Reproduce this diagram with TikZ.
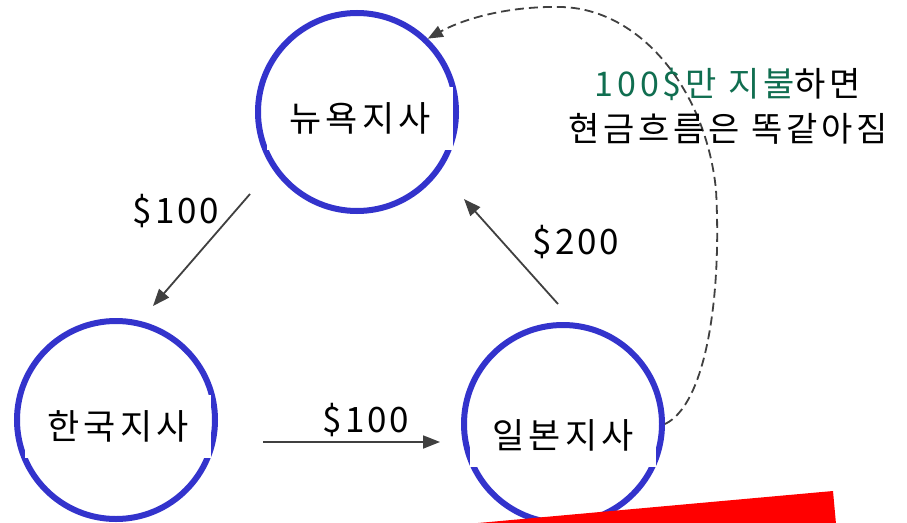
\documentclass[tikz,border=0pt]{standalone}
\usepackage{fontspec}
\setmainfont{Noto Sans CJK KR}
\usetikzlibrary{arrows.meta}
\definecolor{circblue}{RGB}{51,51,204}
\definecolor{notegreen}{RGB}{16,110,80}
\definecolor{arrgrey}{RGB}{64,64,64}
\tikzset{
  branch/.style={circle, draw=circblue, line width=6pt, minimum size=198pt, inner sep=0pt},
  branchtext/.style={fill=white, minimum width=186pt, minimum height=63pt, inner sep=0pt,
    font=\fontsize{35}{40}\selectfont\addfontfeatures{LetterSpace=12}},
  flow/.style={draw=arrgrey, line width=1.8pt, -{Triangle[length=17pt,width=13pt]}},
  dashflow/.style={draw=arrgrey, line width=1.8pt, dash pattern=on 9pt off 5pt,
    -{Triangle[length=15pt,width=12pt]}},
  amount/.style={font=\fontsize{35}{40}\selectfont\addfontfeatures{LetterSpace=8}, inner sep=0pt},
  note/.style={align=center, inner sep=0pt,
    font=\fontsize{34}{45}\selectfont\addfontfeatures{LetterSpace=11}}
}
\begin{document}
\begin{tikzpicture}[x=1pt,y=-1pt]
\useasboundingbox (0,0) rectangle (907,522);
\fill[white] (0,0) rectangle (907,522);

% circles
\node[branch] (c1) at (357,112) {};
\node[branch] (c2) at (116,420) {};
\node[branch] (c3) at (563,424) {};

% text boxes
\node[branchtext] (t1) at (360,118) {뉴욕지사};
\node[branchtext] (t2) at (118,426) {한국지사};
\node[branchtext] (t3) at (563,435) {일본지사};

% arrow end points
\coordinate (a1s) at (250,194);
\coordinate (a1e) at (153,306);
\coordinate (a2s) at (558,304);
\coordinate (a2e) at (464,199);
\coordinate (a3s) at (263,442);
\coordinate (a3e) at (440,442);

\draw[flow] (a1s) -- (a1e);
\draw[flow] (a2s) -- (a2e);
\draw[flow] (a3s) -- (a3e);

% amounts
\node[amount] (l1) at (176,211) {\$100};
\node[amount] (l2) at (576,242) {\$200};
\node[amount] (l3) at (366,420) {\$100};

% dashed curve
\coordinate (m1) at (716,190);
\coordinate (m2) at (560,7);
\draw[dashflow] (c3.east) .. controls (705,405) and (722,300) .. (m1)
  .. controls (706,90) and (640,8) .. (m2)
  .. controls (510,6) and (465,18) .. (c1.46);

% note
\node[note] (n) at (728,106) {\textcolor{notegreen}{100\$만\hspace{12pt}지불}하면\\현금흐름은\hspace{12pt}똑같아짐};

% red shape
\fill[red] (467,524) -- (833,491) -- (836,524) -- cycle;
\end{tikzpicture}
\end{document}
